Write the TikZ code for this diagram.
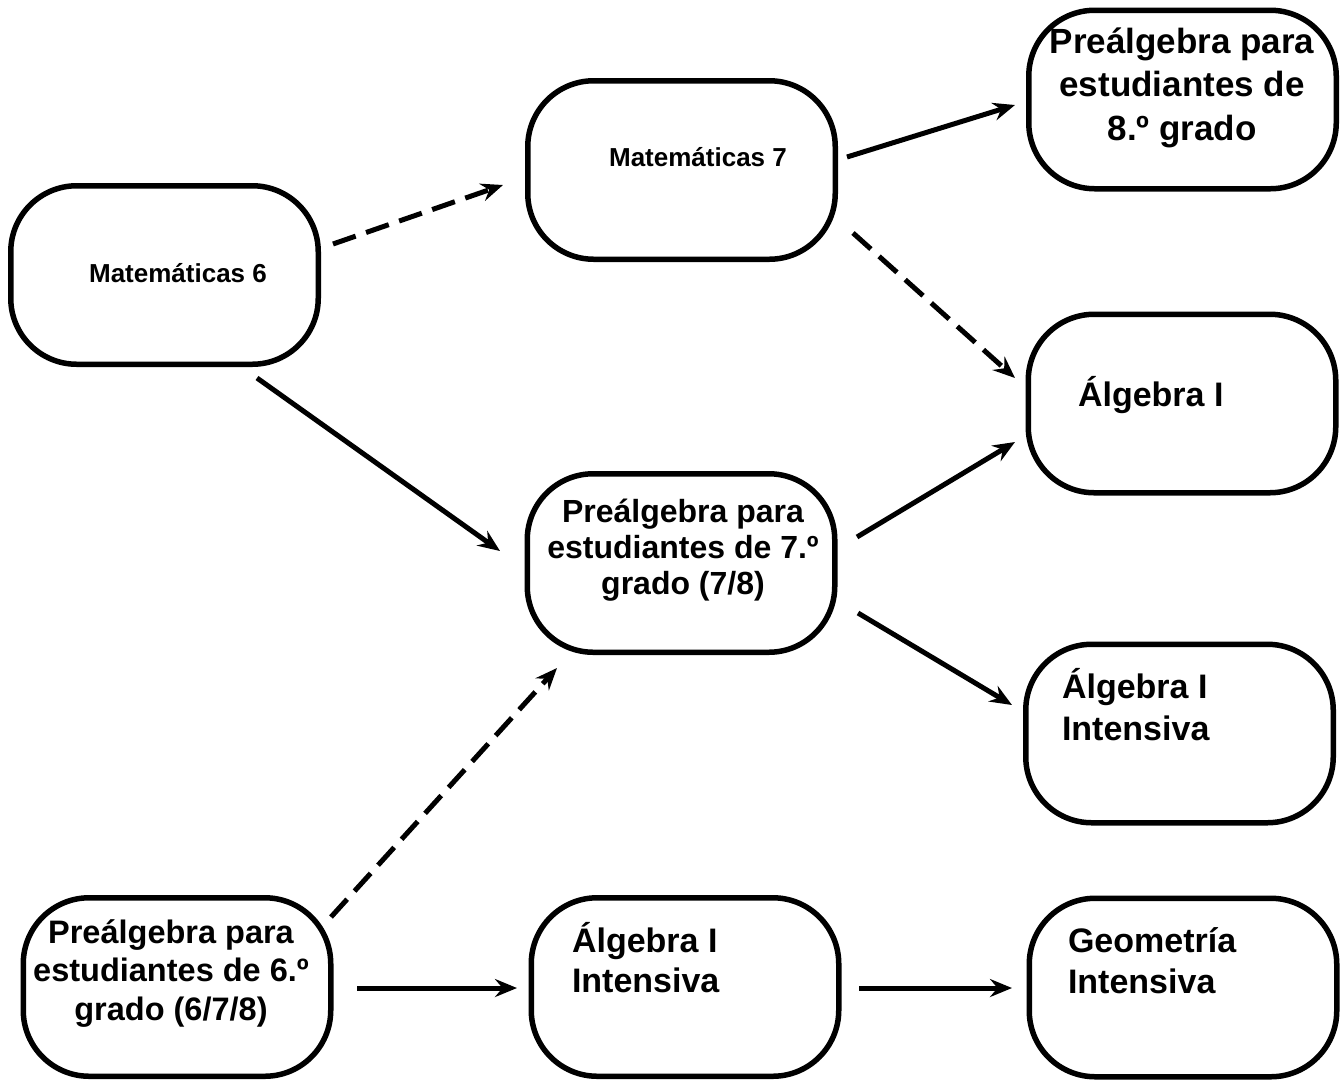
\documentclass[tikz,border=0pt]{standalone}
\usepackage{fontspec}
\setmainfont{Liberation Sans}
\usetikzlibrary{arrows.meta,calc}
\newcommand{\rows}[2]{\begin{tabular}[t]{@{}#1@{}}#2\end{tabular}}
\begin{document}
\begin{tikzpicture}[x=1pt,y=-1pt,
  box/.style={draw=black, line width=5.5pt, rounded corners=66pt,
    minimum width=307.5pt, minimum height=178.5pt, inner sep=0pt},
  arr/.style={line width=5pt, -{Stealth[length=22pt,width=18pt,inset=7.5pt]}},
  dasharr/.style={arr, dash pattern=on 24pt off 11pt},
  txt/.style={inner sep=0pt, outer sep=0pt},
  small/.style={txt, font=\fontsize{26}{31}\selectfont\bfseries},
]
\useasboundingbox (0,0) rectangle (1343,1080);
\fill[white] (0,0) rectangle (1343,1080);

% boxes
\node[box] (m6)   at (164.5,275)   {};
\node[box] (m7)   at (681.5,170)   {};
\node[box] (p8)   at (1182.5,99.5) {};
\node[box] (alg1) at (1182,403.5)  {};
\node[box] (p7)   at (681,563)     {};
\node[box] (algr) at (1179.5,733.5){};
\node[box] (p6)   at (177,987)     {};
\node[box] (algb) at (685,987)     {};
\node[box] (geo)  at (1183,987.5)  {};

% texts
\node[small, anchor=base] (m6t) at (178,282) {Matemáticas 6};
\node[small, anchor=base] (m7t) at (698,166) {Matemáticas 7};
\node[txt, anchor=base, font=\fontsize{35}{43.5}\selectfont\bfseries] (p8t) at (1182,53)
  {\rows{c}{Preálgebra para\\estudiantes de\\8.º grado}};
\node[txt, anchor=base west, font=\fontsize{34}{42}\selectfont\bfseries] (alg1t) at (1078,406)
  {Álgebra I};
\node[txt, anchor=base, font=\fontsize{32}{36}\selectfont\bfseries] (p7t) at (683,522)
  {\rows{c}{Preálgebra para\\estudiantes de 7.º\\grado (7/8)}};
\node[txt, anchor=base west, font=\fontsize{34}{42}\selectfont\bfseries] (algrt) at (1062,698)
  {\rows{l}{Álgebra I\\Intensiva}};
\node[txt, anchor=base, font=\fontsize{32.5}{38.5}\selectfont\bfseries] (p6t) at (171,943)
  {\rows{c}{Preálgebra para\\estudiantes de 6.º\\grado (6/7/8)}};
\node[txt, anchor=base west, font=\fontsize{34}{40}\selectfont\bfseries] (algbt) at (572,952)
  {\rows{l}{Álgebra I\\Intensiva}};
\node[txt, anchor=base west, font=\fontsize{34}{41}\selectfont\bfseries] (geot) at (1068,952)
  {\rows{l}{Geometría\\Intensiva}};

% connector end points
\coordinate (a1s) at ($(m6.center)+(168.5,-31)$);
\coordinate (a1e) at ($(m7.center)+(-178.5,15)$);
\coordinate (a2s) at ($(m7.center)+(165.5,-13)$);
\coordinate (a2e) at ($(p8.center)+(-167.5,5.5)$);
\coordinate (a3s) at ($(m7.center)+(171.5,63)$);
\coordinate (a3e) at ($(alg1.center)+(-167,-25.5)$);
\coordinate (a4s) at ($(m6.center)+(92.5,103)$);
\coordinate (a4e) at ($(p7.center)+(-181,-12)$);
\coordinate (a5s) at ($(p7.center)+(176,-26)$);
\coordinate (a5e) at ($(alg1.center)+(-167,38.5)$);
\coordinate (a6s) at ($(p7.center)+(177,50)$);
\coordinate (a6e) at ($(algr.center)+(-167.5,-28.5)$);
\coordinate (a7s) at ($(p6.center)+(154,-70)$);
\coordinate (a7e) at ($(p7.center)+(-124,105)$);
\coordinate (a8s) at ($(p6.center)+(180,1)$);
\coordinate (a8e) at ($(algb.center)+(-168,1)$);
\coordinate (a9s) at ($(algb.center)+(174,1)$);
\coordinate (a9e) at ($(geo.center)+(-171,0.5)$);

% connectors
\draw[dasharr] (a1s) -- (a1e);
\draw[arr]     (a2s) -- (a2e);
\draw[dasharr] (a3s) -- (a3e);
\draw[arr]     (a4s) -- (a4e);
\draw[arr]     (a5s) -- (a5e);
\draw[arr]     (a6s) -- (a6e);
\draw[dasharr] (a7s) -- (a7e);
\draw[arr]     (a8s) -- (a8e);
\draw[arr]     (a9s) -- (a9e);
\end{tikzpicture}
\end{document}
